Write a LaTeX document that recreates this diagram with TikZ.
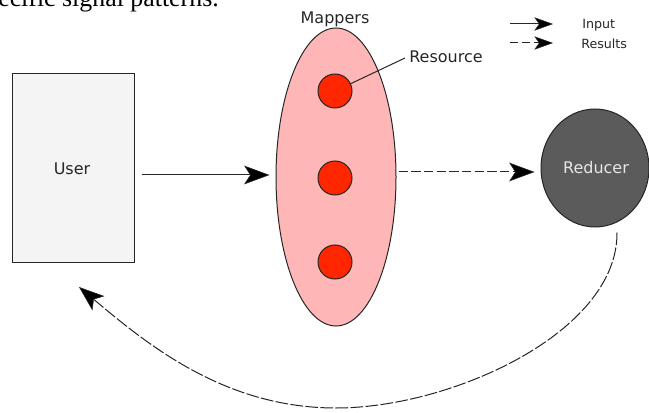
\documentclass[tikz,border=0pt]{standalone}
\usepackage{fontspec}
\setmainfont{DejaVu Sans}
\newfontfamily\bodyserif{Liberation Serif}
\usetikzlibrary{arrows.meta,shapes.geometric,calc}

\definecolor{linegray}{HTML}{262626}
\definecolor{userfill}{HTML}{F4F4F4}
\definecolor{mapfill}{HTML}{FFB6B6}
\definecolor{resfill}{HTML}{FF2600}
\definecolor{redfill}{HTML}{5B5B5B}
\definecolor{redtext}{HTML}{E6E6E6}

\begin{document}
\begin{tikzpicture}[x=0.75pt,y=-0.75pt,
  lbl/.style={font=\fontsize{12}{14}\selectfont, text=black!85, inner sep=0pt, anchor=base},
  smalllbl/.style={font=\fontsize{9.5}{11}\selectfont, text=black!85, inner sep=0pt, anchor=base west},
  bigtip/.style={-{Stealth[length=19pt,width=14pt,inset=4.5pt,fill=black,line width=0.4pt]}},
  smalltip/.style={-{Stealth[length=14pt,width=10pt,inset=3.5pt,fill=black,line width=0.4pt]}},
  conn/.style={draw=linegray, line width=0.75pt},
  dashedconn/.style={conn, dash pattern=on 7pt off 2.5pt},
  returnconn/.style={conn, dash pattern=on 9.5pt off 1.8pt},
  resource/.style={circle, draw=linegray, line width=0.75pt, fill=resfill,
    minimum size=25.5pt, inner sep=0pt}]

\clip (0,0) rectangle (649,413);

% text line of the surrounding page
\node[font=\bodyserif\fontsize{19.4}{22}\selectfont, inner sep=0pt, anchor=base west]
  (pagetext) at (-2,7) {ecific signal patterns.};

% user box
\node[draw=linegray, line width=0.75pt, fill=userfill, minimum width=91.5pt,
  minimum height=141pt, inner sep=0pt] (user) at (73,168) {};
\node[lbl] (usertext) at (72,175) {User};

% mappers
\node[ellipse, draw=linegray, line width=0.75pt, fill=mapfill, minimum width=90pt,
  minimum height=223.5pt, inner sep=0pt] (mappers) at (336,177) {};
\node[lbl] (maptext) at (335,24) {Mappers};
\node[resource] (r1) at (335,91) {};
\node[resource] (r2) at (335,178) {};
\node[resource] (r3) at (335,262) {};

% resource callout
\node[lbl, anchor=base west] (restext) at (409,63) {Resource};
\coordinate (callend) at (405,58);
\draw[conn] (callend) -- (r1.25);

% reducer
\node[ellipse, draw=linegray, line width=0.75pt, fill=redfill, minimum width=81pt,
  minimum height=88.5pt, inner sep=0pt] (reducer) at (595,168) {};
\node[lbl, text=redtext] (redlabel) at (596,174) {Reducer};

% connectors
\draw[conn, bigtip] ($(user.east)+(7,7)$) -- ($(mappers.west)+(-6,-2)$);
\draw[dashedconn, bigtip] ($(mappers.east)+(2,-5)$) -- ($(reducer.west)+(-6,4)$);

\coordinate (back) at (79,287);
\draw[returnconn, bigtip] ($(reducer.south)+(22,5)$)
  .. controls (618,332) and (452,408) .. (336,408)
  .. controls (225,408) and (148,345) .. (back);

% legend
\coordinate (l1a) at (510,24);
\coordinate (l1b) at (553,24);
\coordinate (l2a) at (510,43);
\coordinate (l2b) at (553,43);
\draw[conn, smalltip] (l1a) -- (l1b);
\draw[conn, smalltip, dash pattern=on 6pt off 3pt] (l2a) -- (l2b);
\node[smalllbl] (leg1) at (582,29) {Input};
\node[smalllbl] (leg2) at (581,49) {Results};

\end{tikzpicture}
\end{document}
